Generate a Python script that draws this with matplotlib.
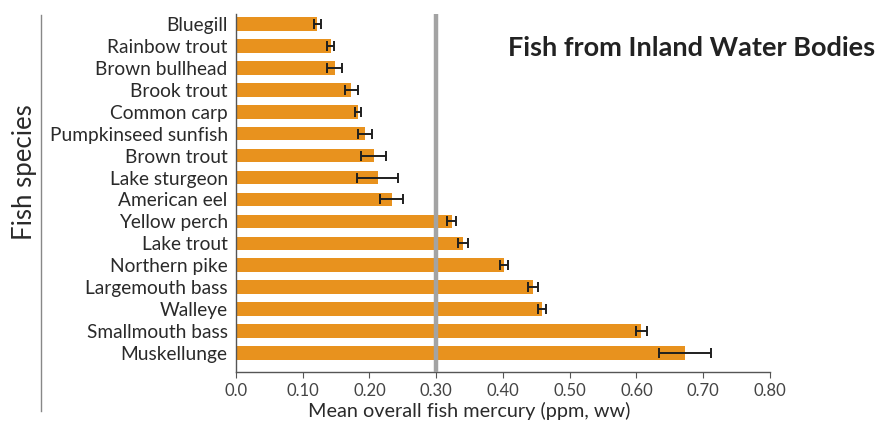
import matplotlib
matplotlib.use("Agg")
import matplotlib.pyplot as plt
from matplotlib.lines import Line2D
import numpy as np

species = ["Bluegill", "Rainbow trout", "Brown bullhead", "Brook trout", "Common carp",
           "Pumpkinseed sunfish", "Brown trout", "Lake sturgeon", "American eel",
           "Yellow perch", "Lake trout", "Northern pike", "Largemouth bass", "Walleye",
           "Smallmouth bass", "Muskellunge"]
mean_hg = [0.122, 0.142, 0.148, 0.173, 0.183, 0.193, 0.206, 0.212, 0.233,
           0.323, 0.340, 0.401, 0.445, 0.458, 0.607, 0.673]
err_hg = [0.005, 0.005, 0.011, 0.010, 0.004, 0.010, 0.019, 0.030, 0.017,
          0.007, 0.007, 0.006, 0.007, 0.006, 0.008, 0.039]
xticks = [0.0, 0.1, 0.2, 0.3, 0.4, 0.5, 0.6, 0.7, 0.8]
xticklabels = ["0.0", "0.10", "0.20", "0.30", "0.40", "0.50", "0.60", "0.70", "0.80"]
guideline = 0.30

plt.rcParams['font.family'] = ['Lato', 'DejaVu Sans']

fig = plt.figure(figsize=(8.78, 4.24), dpi=100)
ax = fig.add_axes([236/878, 1 - 372/424, (770 - 236)/878, (372 - 14)/424])

y = np.arange(len(species))
ax.barh(y, mean_hg, height=0.62, color="#E8921E", zorder=2)
ax.errorbar(mean_hg, y, xerr=err_hg, fmt="none", ecolor="#1f1f1f", elinewidth=1.4,
            capsize=3.5, capthick=1.4, zorder=3)
ax.axvline(guideline, color="#a3a3a3", lw=3.2, zorder=4)

ax.set_xlim(0, 0.8)
ax.set_ylim(len(species) - 1 + 0.87, -0.46)
ax.set_yticks(y)
ax.set_yticklabels(species, fontsize=13.8, color="#2a2a2a")
ax.set_xticks(xticks)
ax.set_xticklabels(xticklabels, fontsize=12, color="#444444")
ax.tick_params(axis='y', length=0, pad=6)
ax.tick_params(axis='x', length=4, color="#555555", pad=4)
for s in ["top", "right"]:
    ax.spines[s].set_visible(False)
for s in ["left", "bottom"]:
    ax.spines[s].set_color("#555555")
    ax.spines[s].set_linewidth(1.0)

fig.text(469/878, 1 - 411/424, "Mean overall fish mercury (ppm, ww)", fontsize=14.3,
         color="#2a2a2a", ha="center", va="center")
fig.text(25/878, 1 - 172/424, "Fish species", rotation=90, fontsize=18.5, color="#2a2a2a",
         ha="center", va="center")
fig.add_artist(Line2D([41/878, 41/878], [1 - 15/424, 1 - 411/424], color="#888888", lw=1.0))

fig.text(875/878, 1 - 48/424, "Fish from Inland Water Bodies", fontsize=19.5,
         fontweight="bold", color="#222222", ha="right", va="center")

fig.savefig("out.png", dpi=100)
